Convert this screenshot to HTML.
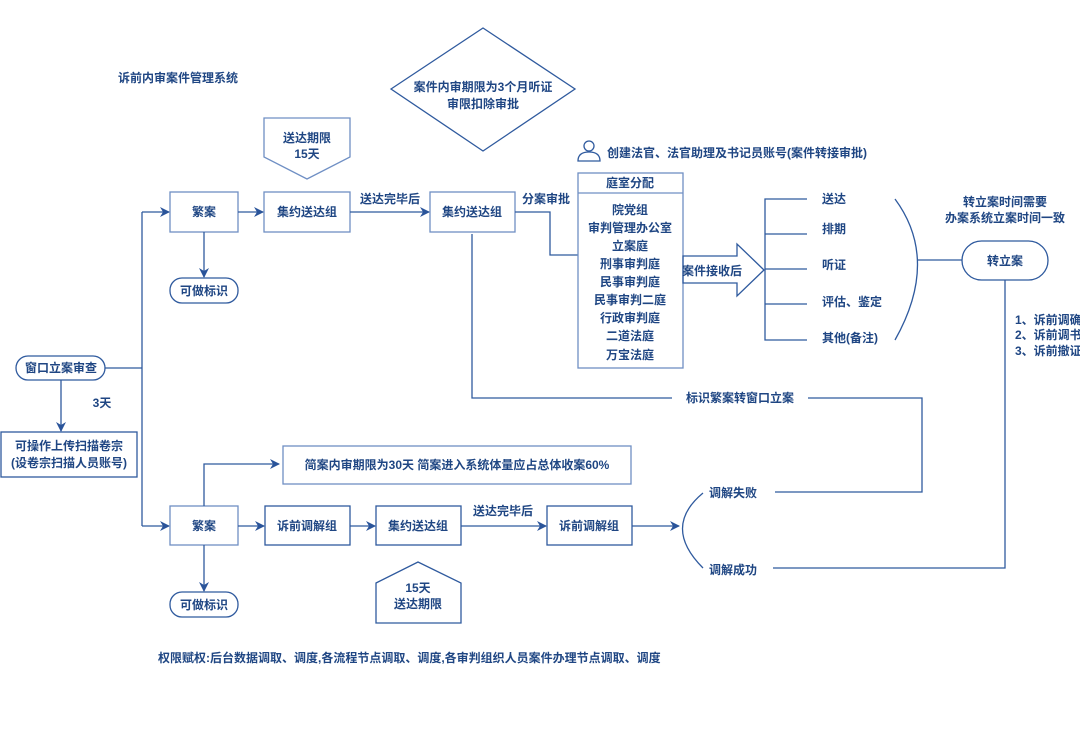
<!DOCTYPE html>
<html><head><meta charset="utf-8"><style>
html,body{margin:0;padding:0;background:#fff;}
svg{display:block;}
text{font-family:"Liberation Sans","Noto Sans CJK SC",sans-serif;font-weight:bold;fill:#1f4683;font-size:12px;}
</style></head><body>
<svg width="1080" height="746" viewBox="0 0 1080 746" xmlns="http://www.w3.org/2000/svg">
<defs><marker id="a" markerWidth="10" markerHeight="10" refX="9" refY="5" orient="auto" markerUnits="userSpaceOnUse"><path d="M0,0 L10,5 L0,10 L3,5 Z" fill="#2a549a"/></marker></defs>
<g fill="none" stroke="#2f5a9e" stroke-width="1.3">
<!-- top row -->
<polygon points="391,89 483,28 575,89 483,151"/>
<polygon points="264,118 350,118 350,157 307,179 264,157" stroke="#6f8fc4"/>
<rect x="170" y="192" width="68" height="40" stroke="#6f8fc4"/>
<rect x="264" y="192" width="86" height="40" stroke="#6f8fc4"/>
<rect x="430" y="192" width="85" height="40" stroke="#6f8fc4"/>
<line x1="238" y1="212" x2="263" y2="212" marker-end="url(#a)"/>
<line x1="350" y1="212" x2="429" y2="212" marker-end="url(#a)"/>
<polyline points="515,212 550,212 550,255 578,255"/>
<line x1="204" y1="232" x2="204" y2="277" marker-end="url(#a)"/>
<rect x="170" y="278" width="68" height="25" rx="12"/>
<polyline points="142,212 142,526"/>
<line x1="142" y1="212" x2="169" y2="212" marker-end="url(#a)"/>
<polyline points="472,234 472,398 672,398"/>
<polyline points="808,398 922,398 922,492 775,492"/>
<!-- room box -->
<rect x="578" y="173" width="105" height="195" stroke="#6f8fc4"/>
<line x1="578" y1="193" x2="683" y2="193" stroke="#6f8fc4"/>
<polygon points="683,256 737,256 737,244 764,270 737,296 737,283 683,283"/>
<polyline points="807,199 765,199 765,340 807,340"/>
<line x1="765" y1="234" x2="807" y2="234"/>
<line x1="765" y1="269" x2="807" y2="269"/>
<line x1="765" y1="304" x2="807" y2="304"/>
<path d="M895,199 Q940,260 895,340"/>
<line x1="918" y1="260" x2="962" y2="260"/>
<rect x="962" y="241" width="86" height="39" rx="19.5"/>
<polyline points="1005,280 1005,568 773,568"/>
<!-- person icon -->
<circle cx="589" cy="146" r="5"/>
<path d="M578,161 Q578,152 589,152 Q600,152 600,161 Z"/>
<!-- left -->
<rect x="16" y="356" width="89" height="24" rx="12"/>
<line x1="105" y1="368" x2="142" y2="368"/>
<line x1="61" y1="380" x2="61" y2="431" marker-end="url(#a)"/>
<rect x="1" y="432" width="136" height="45"/>
<!-- lower row -->
<line x1="142" y1="526" x2="169" y2="526" marker-end="url(#a)"/>
<rect x="170" y="506" width="68" height="39" stroke="#6f8fc4"/>
<polyline points="204,506 204,464 279,464" marker-end="url(#a)"/>
<rect x="283" y="446" width="348" height="38" stroke="#6f8fc4"/>
<line x1="238" y1="526" x2="264" y2="526" marker-end="url(#a)"/>
<rect x="265" y="506" width="85" height="39"/>
<line x1="350" y1="526" x2="375" y2="526" marker-end="url(#a)"/>
<rect x="376" y="506" width="85" height="39"/>
<line x1="461" y1="526" x2="546" y2="526" marker-end="url(#a)"/>
<rect x="547" y="506" width="85" height="39"/>
<line x1="632" y1="526" x2="679" y2="526" marker-end="url(#a)"/>
<path d="M703,493 Q662,527 703,568"/>
<line x1="204" y1="545" x2="204" y2="591" marker-end="url(#a)"/>
<rect x="170" y="592" width="68" height="25" rx="12"/>
<polygon points="376,583 418,562 461,583 461,623 376,623"/>
</g>
<g text-anchor="middle">
<text x="178" y="82">诉前内审案件管理系统</text>
<text x="483" y="91">案件内审期限为3个月听证</text>
<text x="483" y="108">审限扣除审批</text>
<text x="307" y="142">送达期限</text>
<text x="307" y="158">15天</text>
<text x="204" y="216">繁案</text>
<text x="307" y="216">集约送达组</text>
<text x="390" y="203">送达完毕后</text>
<text x="472" y="216">集约送达组</text>
<text x="546" y="203">分案审批</text>
<text x="204" y="295">可做标识</text>
<text x="630" y="187">庭室分配</text>
<text x="630" y="214">院党组</text>
<text x="630" y="232">审判管理办公室</text>
<text x="630" y="250">立案庭</text>
<text x="630" y="268">刑事审判庭</text>
<text x="630" y="286">民事审判庭</text>
<text x="630" y="304">民事审判二庭</text>
<text x="630" y="322">行政审判庭</text>
<text x="630" y="340">二道法庭</text>
<text x="630" y="359">万宝法庭</text>
<text x="712" y="275">案件接收后</text>
<text x="1005" y="206">转立案时间需要</text>
<text x="1005" y="222">办案系统立案时间一致</text>
<text x="1005" y="265">转立案</text>
<text x="740" y="402">标识繁案转窗口立案</text>
<text x="61" y="372">窗口立案审查</text>
<text x="102" y="407">3天</text>
<text x="69" y="450">可操作上传扫描卷宗</text>
<text x="69" y="467">(设卷宗扫描人员账号)</text>
<text x="457" y="469">简案内审期限为30天 简案进入系统体量应占总体收案60%</text>
<text x="204" y="530">繁案</text>
<text x="307" y="530">诉前调解组</text>
<text x="418" y="530">集约送达组</text>
<text x="503" y="515">送达完毕后</text>
<text x="589" y="530">诉前调解组</text>
<text x="204" y="609">可做标识</text>
<text x="418" y="592">15天</text>
<text x="418" y="608">送达期限</text>
</g>
<text x="607" y="157">创建法官、法官助理及书记员账号(案件转接审批)</text>
<text x="822" y="203">送达</text>
<text x="822" y="233">排期</text>
<text x="822" y="269">听证</text>
<text x="822" y="306">评估、鉴定</text>
<text x="822" y="342">其他(备注)</text>
<text x="1015" y="324">1、诉前调确</text>
<text x="1015" y="339">2、诉前调书</text>
<text x="1015" y="355">3、诉前撤证</text>
<text x="709" y="497">调解失败</text>
<text x="709" y="574">调解成功</text>
<text x="158" y="662">权限赋权:后台数据调取、调度,各流程节点调取、调度,各审判组织人员案件办理节点调取、调度</text>
</svg>
</body></html>
